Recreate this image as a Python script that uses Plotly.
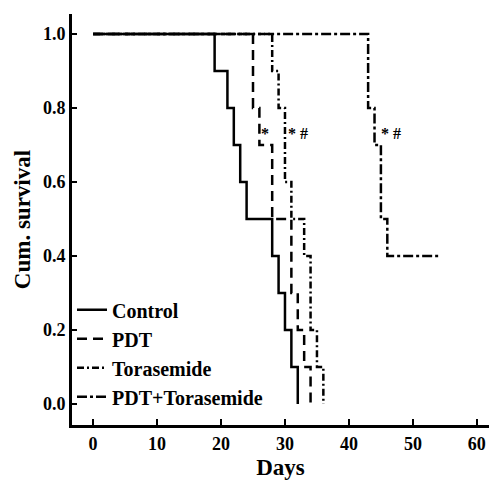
import plotly.graph_objects as go

# Kaplan-Meier steps (days, cumulative survival)
control_days = [0, 19, 21, 22, 23, 24, 28, 29, 30, 31, 32]
control_surv = [1.0, 0.9, 0.8, 0.7, 0.6, 0.5, 0.4, 0.3, 0.2, 0.1, 0.0]

pdt_days = [0, 25, 26, 28, 31, 32, 33, 34]
pdt_surv = [1.0, 0.8, 0.7, 0.5, 0.3, 0.2, 0.1, 0.0]

tora_days = [0, 28, 29, 30, 31, 33, 34, 35, 36]
tora_surv = [1.0, 0.9, 0.8, 0.6, 0.5, 0.4, 0.2, 0.1, 0.0]

combo_days = [0, 43, 44, 45, 46, 54]
combo_surv = [1.0, 0.8, 0.7, 0.5, 0.4, 0.4]

marks_x = [26.9, 32.0, 46.6]
marks_y = [0.73, 0.73, 0.73]
marks_text = ["*", "* #", "* #"]

x_ticks = [0, 10, 20, 30, 40, 50, 60]
y_ticks = [0.0, 0.2, 0.4, 0.6, 0.8, 1.0]

SERIF = "Liberation Serif, Times New Roman, serif"

series = [
    ("Control", control_days, control_surv, "solid"),
    ("PDT", pdt_days, pdt_surv, "10px,6px"),
    ("Torasemide", tora_days, tora_surv, "7px,3px,2px,3px"),
    ("PDT+Torasemide", combo_days, combo_surv, "10px,3px,3px,3px"),
]

fig = go.Figure()
for name, days, surv, dash in series:
    fig.add_trace(go.Scatter(
        x=days, y=surv, name=name, mode="lines",
        line=dict(shape="hv", color="black", width=2.5, dash=dash),
    ))

for x, y, t in zip(marks_x, marks_y, marks_text):
    fig.add_annotation(x=x, y=y, text="<b>%s</b>" % t, showarrow=False,
                       font=dict(family=SERIF, size=16, color="black"))

fig.update_layout(
    width=489, height=482,
    margin=dict(l=72, r=0, t=14, b=57),
    paper_bgcolor="white", plot_bgcolor="white",
    font=dict(family=SERIF, size=18, color="black"),
    showlegend=True,
    legend=dict(x=0.0, y=0.328, xanchor="left", yanchor="top",
                bgcolor="rgba(0,0,0,0)", itemwidth=30,
                font=dict(family=SERIF, size=20, color="black", weight="bold")),
    xaxis=dict(
        range=[-3.3, 61.9], tickvals=x_ticks, showgrid=False, zeroline=False,
        automargin=False,
        showline=True, linecolor="black", linewidth=3,
        ticks="inside", ticklen=6, tickwidth=1.5, tickcolor="black",
        tickfont=dict(family=SERIF, size=18, weight="bold"),
        title=dict(text="<b>Days</b>", font=dict(family=SERIF, size=23), standoff=7),
    ),
    yaxis=dict(
        range=[-0.057, 1.054], tickvals=y_ticks, tickformat=".1f",
        showgrid=False, zeroline=False, automargin=False,
        showline=True, linecolor="black", linewidth=3,
        ticks="inside", ticklen=5, tickwidth=1.5, tickcolor="black",
        tickfont=dict(family=SERIF, size=18, weight="bold"),
        title=dict(text="<b>Cum. survival</b>", font=dict(family=SERIF, size=23), standoff=6),
    ),
)

# drop the default page margin so the figure sits at the window's corner
fig.write_html("out.html", config={"displayModeBar": False},
               post_script="document.body.style.margin = '0px';")
